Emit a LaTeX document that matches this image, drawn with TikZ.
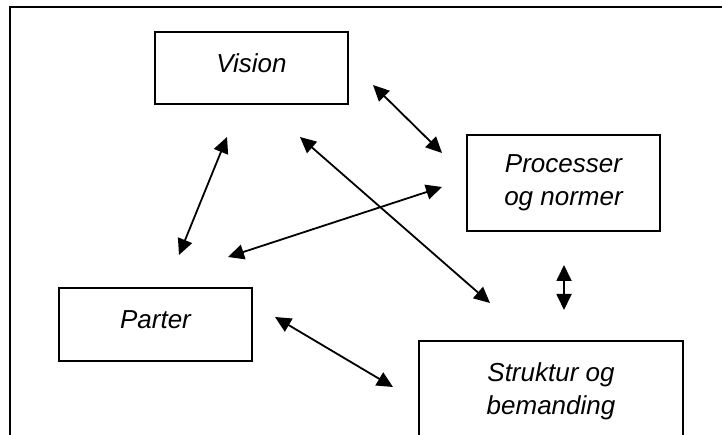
\documentclass[tikz,border=0pt]{standalone}
\usepackage{fontspec}
\setmainfont{Liberation Sans}
\usetikzlibrary{arrows.meta}
\tikzset{
  box/.style={draw, line width=1.5pt, rectangle, inner sep=0pt, align=center,
    font=\itshape\fontsize{26}{33}\selectfont},
  conn/.style={line width=1.8pt, {Triangle[length=16pt,width=15pt]}-{Triangle[length=16pt,width=15pt]}},
  frame/.style={line width=1.5pt}
}
\begin{document}
\begin{tikzpicture}[x=1pt,y=-1pt]
\useasboundingbox (0,0) rectangle (722,435);
\clip (0,0) rectangle (722,435);
% outer frame
\coordinate (fbl) at (10,445);
\coordinate (ftl) at (10,7);
\coordinate (ftr) at (730,7);
\draw[frame] (fbl) -- (ftl) -- (ftr);
% boxes
\node[box, minimum width=193pt, minimum height=72pt, text depth=10pt] (vision) at (251.5,68) {Vision};
\node[box, minimum width=193pt, minimum height=96pt] (proc) at (563.5,183) {Processer\\og normer};
\node[box, minimum width=193pt, minimum height=73pt, text depth=9pt] (parter) at (155.5,324.5) {Parter};
\node[box, minimum width=264pt, minimum height=100pt] (strukt) at (551,391) {Struktur og\\bemanding};
% connector end points
\coordinate (a1s) at (373,85);  \coordinate (a1e) at (442,153);
\coordinate (a2s) at (227,137); \coordinate (a2e) at (179,255);
\coordinate (a3s) at (300,137); \coordinate (a3e) at (490,303);
\coordinate (a4s) at (442,187); \coordinate (a4e) at (228,257);
\coordinate (a5s) at (564,265); \coordinate (a5e) at (564,310);
\coordinate (a6s) at (275,317); \coordinate (a6e) at (393,387);
\draw[conn] (a1s) -- (a1e);
\draw[conn] (a2s) -- (a2e);
\draw[conn] (a3s) -- (a3e);
\draw[conn] (a4s) -- (a4e);
\draw[conn] (a5s) -- (a5e);
\draw[conn] (a6s) -- (a6e);
\end{tikzpicture}
\end{document}
